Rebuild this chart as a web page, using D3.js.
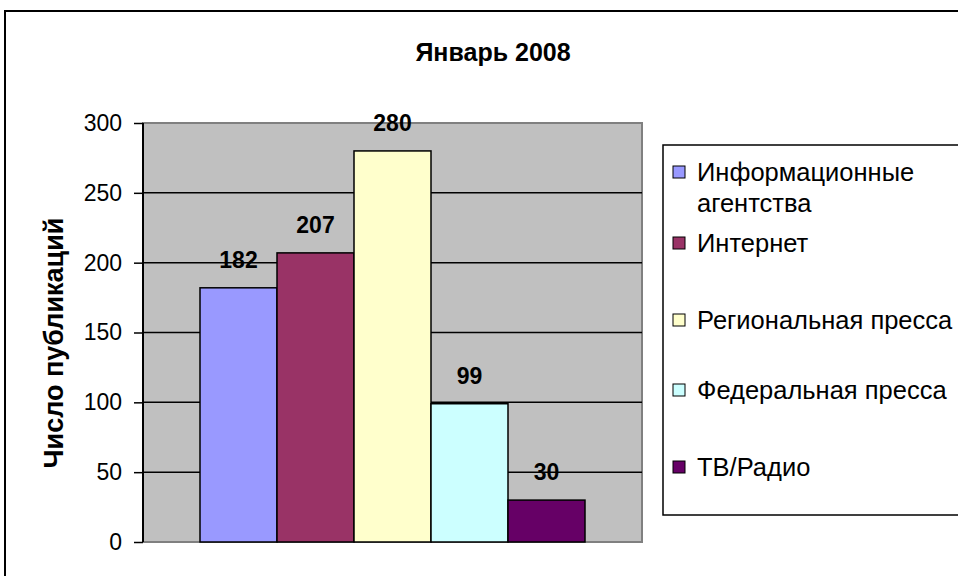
<!DOCTYPE html>
<html>
<head>
<meta charset="utf-8">
<script src="https://cdn.jsdelivr.net/npm/d3@7"></script>
<style>
  body { margin: 0; background: #fff; }
  text { font-family: Arial, "Liberation Sans", sans-serif; }
</style>
</head>
<body>
<div id="chart"></div>
<script>
// Январь 2008 — число публикаций по типам СМИ
const categories = ["Информационные агентства", "Интернет", "Региональная пресса", "Федеральная пресса", "ТВ/Радио"];
const values = [182, 207, 280, 99, 30];
const colors = ["#9999FF", "#993366", "#FFFFCC", "#CCFFFF", "#660066"];
const legendLines = [["Информационные", "агентства"], ["Интернет"], ["Региональная пресса"], ["Федеральная пресса"], ["ТВ/Радио"]];
const yTicks = [0, 50, 100, 150, 200, 250, 300];

const width = 958, height = 576;
const plot = {left: 143, right: 642, top: 123, bottom: 542};

const svg = d3.select("#chart").append("svg")
  .attr("width", width)
  .attr("height", height);

// outer chart frame (runs off the right and bottom edges)
svg.append("rect")
  .attr("x", 5).attr("y", 11)
  .attr("width", 980).attr("height", 600)
  .attr("fill", "#fff")
  .attr("stroke", "#000")
  .attr("stroke-width", 2);

svg.append("text")
  .attr("x", 493).attr("y", 61)
  .attr("text-anchor", "middle")
  .attr("font-size", 25)
  .attr("font-weight", "bold")
  .text("Январь 2008");

const y = d3.scaleLinear()
  .domain([0, 300])
  .range([plot.bottom, plot.top]);

const groupPad = 57;
const x = d3.scaleBand()
  .domain(categories)
  .range([plot.left + groupPad, plot.right - groupPad])
  .padding(0);

// plot background
svg.append("rect")
  .attr("x", plot.left).attr("y", plot.top)
  .attr("width", plot.right - plot.left)
  .attr("height", plot.bottom - plot.top)
  .attr("fill", "#C0C0C0")
  .attr("stroke", "#808080")
  .attr("stroke-width", 2);

// gridlines
svg.append("g")
  .selectAll("line")
  .data(yTicks.filter(d => d > 0 && d < 300))
  .join("line")
    .attr("x1", plot.left).attr("x2", plot.right)
    .attr("y1", d => y(d)).attr("y2", d => y(d))
    .attr("stroke", "#000")
    .attr("stroke-width", 1.5);

// bars
svg.append("g")
  .selectAll("rect")
  .data(values)
  .join("rect")
    .attr("x", (d, i) => x(categories[i]))
    .attr("y", d => y(d))
    .attr("width", x.bandwidth())
    .attr("height", d => y(0) - y(d))
    .attr("fill", (d, i) => colors[i])
    .attr("stroke", "#000")
    .attr("stroke-width", 1.5);

// value labels
svg.append("g")
  .selectAll("text")
  .data(values)
  .join("text")
    .attr("x", (d, i) => x(categories[i]) + x.bandwidth() / 2)
    .attr("y", d => y(d) - 20)
    .attr("text-anchor", "middle")
    .attr("font-size", 23)
    .attr("font-weight", "bold")
    .text(d => d);

// y axis
const yAxis = g => g
  .attr("transform", `translate(${plot.left},0)`)
  .call(d3.axisLeft(y).tickValues(yTicks).tickSize(9).tickPadding(12))
  .call(g => g.select(".domain").attr("stroke", "#000").attr("stroke-width", 2).attr("d", `M0,${plot.bottom}V${plot.top}`))
  .call(g => g.selectAll(".tick line").attr("stroke", "#000").attr("stroke-width", 1.5))
  .call(g => g.selectAll(".tick text")
      .attr("font-size", 23)
      .attr("font-family", "Arial, 'Liberation Sans', sans-serif")
      .attr("fill", "#000"));

svg.append("g").call(yAxis);

svg.append("text")
  .attr("transform", "translate(63,343) rotate(-90)")
  .attr("text-anchor", "middle")
  .attr("font-size", 27)
  .attr("font-weight", "bold")
  .text("Число публикаций");

// legend
const legend = svg.append("g");
legend.append("rect")
  .attr("x", 663).attr("y", 145)
  .attr("width", 320).attr("height", 370)
  .attr("fill", "#fff")
  .attr("stroke", "#000")
  .attr("stroke-width", 1.5);

const legendY = [172, 243, 320, 390, 467];
const item = legend.selectAll("g.item")
  .data(categories)
  .join("g")
    .attr("class", "item")
    .attr("transform", (d, i) => `translate(673,${legendY[i]})`);

item.append("rect")
  .attr("x", 0).attr("y", -6)
  .attr("width", 12).attr("height", 12)
  .attr("fill", (d, i) => colors[i])
  .attr("stroke", "#000")
  .attr("stroke-width", 1);

item.append("text")
  .attr("x", 24)
  .attr("font-size", 25.5)
  .attr("dominant-baseline", "central")
  .selectAll("tspan")
  .data((d, i) => legendLines[i])
  .join("tspan")
    .attr("x", 24)
    .attr("dy", (d, j) => j === 0 ? 0 : 31)
    .text(d => d);
</script>
</body>
</html>
